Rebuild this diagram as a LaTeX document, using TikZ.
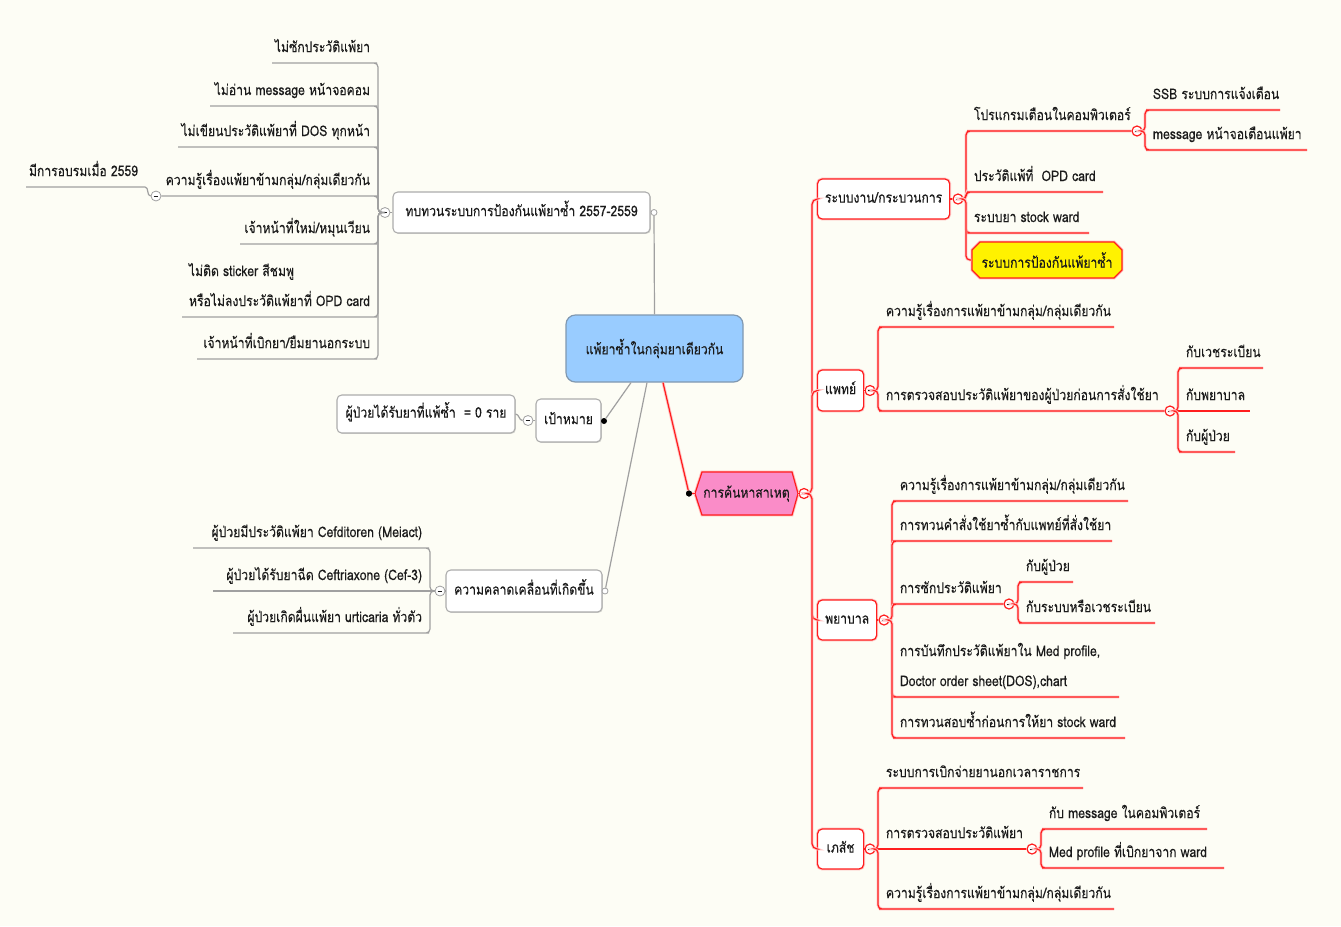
\documentclass[tikz,border=0pt]{standalone}
\usepackage{fontspec}
\setmainfont[Script=Thai, FakeStretch=0.83, FakeBold=0.25]{Loma}
\usetikzlibrary{calc,shapes.misc,shadows}
\definecolor{bgc}{HTML}{FDFDF5}
\definecolor{rootfill}{HTML}{99CCFF}
\definecolor{rootdraw}{HTML}{8098B0}
\definecolor{pinkfill}{HTML}{FA8CC8}
\definecolor{txt}{HTML}{1A1A1A}
\definecolor{gl}{HTML}{A0A0A0}
\definecolor{rl}{HTML}{FF1E1E}
\newcommand\mnsrule{\rule[-0.35pt]{3.6pt}{0.7pt}}
\tikzset{
 gline/.style={draw=gl, line width=0.9pt},
 rline/.style={draw=rl, line width=0.9pt, preaction={draw=red!22, line width=2.2pt}},
 colg/.style={circle, draw=gl, fill=white, line width=0.6pt, minimum size=7.5pt, inner sep=0pt},
 colr/.style={circle, draw=rl, fill=white, line width=0.9pt, minimum size=7.5pt, inner sep=0pt},
 endc/.style={circle, draw=gl, fill=white, line width=0.6pt, minimum size=4.5pt, inner sep=0pt},
 dotc/.style={circle, fill=black, minimum size=4.5pt, inner sep=0pt},
 gbox/.style={draw=gray!65, fill=white, rounded corners=3.5pt, line width=0.8pt, inner xsep=4pt, text height=9pt, text depth=3.5pt, drop shadow={shadow xshift=0.7pt, shadow yshift=-0.7pt, opacity=0.3}},
 rbox/.style={draw=rl, fill=white, rounded corners=3.5pt, line width=0.9pt, anchor=west, inner xsep=3pt, text height=9pt, text depth=3.5pt, preaction={draw=red!25,line width=2.2pt}},
 ulR/.style={anchor=south west, inner xsep=2pt, inner ysep=1pt, text depth=7pt, text height=9pt},
 ulL/.style={anchor=south east, inner xsep=2pt, inner ysep=1pt, text depth=7pt, text height=9pt},
 twoline/.style={font=\fontsize{11}{22.5}\selectfont, align=left},
}
\begin{document}
\begin{tikzpicture}[x=0.75pt,y=-0.75pt, font=\fontsize{11}{13}\selectfont, every node/.append style={text=txt}]
\useasboundingbox (0,0) rectangle (1341,926);
\fill[bgc] (0,0) rectangle (1341,926);

% ---------- root ----------
\node[draw=rootdraw, fill=rootfill, rounded corners=7pt, line width=0.9pt, minimum width=132.75pt, minimum height=50.25pt] (root) at (654.5,348.5) {แพ้ยาซ้ำในกลุ่มยาเดียวกัน};

% ---------- review branch ----------
\node[gbox, minimum width=192.75pt, minimum height=30.75pt] (rv) at (521.5,212.5) {ทบทวนระบบการป้องกันแพ้ยาซ้ำ 2557-2559};
\node[colg] (crv) at (385,212.5) {\mnsrule};
\node[ulL] (k1) at (373,63) {ไม่ซักประวัติแพ้ยา};
\node[ulL] (k2) at (373,106) {ไม่อ่าน message หน้าจอคอม};
\node[ulL] (k3) at (373,147) {ไม่เขียนประวัติแพ้ยาที่ DOS ทุกหน้า};
\node[ulL] (k4) at (373,196) {ความรู้เรื่องแพ้ยาข้ามกลุ่ม/กลุ่มเดียวกัน};
\node[ulL] (k5) at (373,244) {เจ้าหน้าที่ใหม่/หมุนเวียน};
\node[ulL, twoline] (k6) at (373,317) {ไม่ติด sticker สีชมพู\\หรือไม่ลงประวัติแพ้ยาที่ OPD card};
\node[ulL] (k7) at (373,359) {เจ้าหน้าที่เบิกยา/ยืมยานอกระบบ};
\node[colg] (ck4) at (156,196) {\mnsrule};
\node[ulR] (kk) at (26,187) {มีการอบรมเมื่อ 2559};

\draw[gline] (rv.west) -- (crv.east);
\draw[gline, rounded corners=3pt] (crv.west) -- (378,212.5) |- (k1.south east) -- ++(-101,0);
\draw[gline, rounded corners=3pt] (crv.west) -- (378,212.5) |- (k2.south east) -- ++(-163,0);
\draw[gline, rounded corners=3pt] (crv.west) -- (378,212.5) |- (k3.south east) -- ++(-195,0);
\draw[gline, rounded corners=3pt] (crv.west) -- (378,212.5) |- (k4.south east) -- (ck4.east);
\draw[gline, rounded corners=3pt] (crv.west) -- (378,212.5) |- (k5.south east) -- ++(-133,0);
\draw[gline, rounded corners=3pt] (crv.west) -- (378,212.5) |- (k6.south east) -- ++(-191,0);
\draw[gline, rounded corners=3pt] (crv.west) -- (378,212.5) |- (k7.south east) -- ++(-176,0);
\draw[gline] (ck4.west) to[out=180,in=0] ($(kk.south west)+(119,0)$) -- (kk.south west);

% ---------- goal branch ----------
\node[gbox, minimum width=48.75pt, minimum height=32.25pt] (goal) at (568.5,420.5) {เป้าหมาย};
\node[colg] (cgoal) at (528,420.5) {\mnsrule};
\node[gbox, minimum width=133.5pt, minimum height=28.5pt] (gc) at (426,414) {ผู้ป่วยได้รับยาที่แพ้ซ้ำ\ \ = 0 ราย};
\draw[gline] (goal.west) -- (cgoal.east);
\draw[gline] (cgoal.west) to[out=180,in=0] (gc.east);

% ---------- error branch ----------
\node[gbox, minimum width=117pt, minimum height=31.5pt] (err) at (524,591) {ความคลาดเคลื่อนที่เกิดขึ้น};
\node[colg] (cerr) at (440,591) {\mnsrule};
\node[ulL] (e1) at (425,548) {ผู้ป่วยมีประวัติแพ้ยา Cefditoren (Meiact)};
\node[ulL] (e2) at (425,591) {ผู้ป่วยได้รับยาฉีด Ceftriaxone (Cef-3)};
\node[ulL] (e3) at (425,633) {ผู้ป่วยเกิดผื่นแพ้ยา urticaria ทั่วตัว};
\draw[gline] (err.west) -- (cerr.east);
\draw[gline, rounded corners=3pt] (cerr.west) -- (430,591) |- (e1.south east) -- ++(-232,0);
\draw[gline] (cerr.west) -- (e2.south east) -- ++(-212,0);
\draw[gline, rounded corners=3pt] (cerr.west) -- (430,591) |- (e3.south east) -- ++(-192,0);

% ---------- cause branch ----------
\draw[draw=rl, fill=pinkfill, line width=0.9pt, preaction={draw=red!25, line width=2.2pt}]
  (695,493.5) -- (702,472) -- (792,472) -- (798,493.5) -- (792,515) -- (702,515) -- cycle;
\node (cause) at (746.5,493.5) {การค้นหาสาเหตุ};
\coordinate (causeL) at (695,493.5);
\coordinate (causeR) at (798,493.5);
\node[colr] (ccause) at (804,493.5) {\mnsrule};

\node[rbox, minimum width=99pt, minimum height=30pt] (b1) at (817,199) {ระบบงาน/กระบวนการ};
\node[rbox, minimum width=34.5pt, minimum height=30.75pt] (b2) at (817,390.5) {แพทย์};
\node[rbox, minimum width=44.25pt, minimum height=30pt] (b3) at (817,620) {พยาบาล};
\node[rbox, minimum width=34.5pt, minimum height=30pt] (b4) at (817,849) {เภสัช};
\node[colr] (cb1) at (958,199) {\mnsrule};
\node[colr] (cb2) at (870,390.5) {\mnsrule};
\node[colr] (cb3) at (884,620) {\mnsrule};
\node[colr] (cb4) at (870,849) {\mnsrule};

\draw[rline] (causeR) -- (ccause.west);
\draw[rline, rounded corners=4pt] (ccause.east) -- (812,493.5) |- (b1.west);
\draw[rline, rounded corners=4pt] (ccause.east) -- (812,493.5) |- (b2.west);
\draw[rline, rounded corners=4pt] (ccause.east) -- (812,493.5) |- (b3.west);
\draw[rline, rounded corners=4pt] (ccause.east) -- (812,493.5) |- (b4.west);
\draw[rline] (b1.east) -- (cb1.west);
\draw[rline] (b2.east) -- (cb2.west);
\draw[rline] (b3.east) -- (cb3.west);
\draw[rline] (b4.east) -- (cb4.west);

% system / process
\node[ulR] (d1) at (971,131) {โปรแกรมเตือนในคอมพิวเตอร์};
\node[ulR] (d2) at (971,192) {ประวัติแพ้ที่\ \ OPD card};
\node[ulR] (d3) at (971,233) {ระบบยา stock ward};
\node[chamfered rectangle, chamfered rectangle xsep=3pt, chamfered rectangle ysep=3pt, draw=rl, fill=yellow, line width=0.9pt, minimum width=112.5pt, minimum height=27pt, inner sep=2pt, preaction={draw=red!25,line width=2.2pt}] (yb) at (1047,260) {ระบบการป้องกันแพ้ยาซ้ำ};
\node[colr] (cprog) at (1137,131) {\mnsrule};
\node[ulR] (p1) at (1150,110) {SSB ระบบการแจ้งเตือน};
\node[ulR] (p2) at (1150,150) {message หน้าจอเตือนแพ้ยา};
\draw[rline, rounded corners=3pt] (cb1.east) -- (966,199) |- (d1.south west) -- (cprog.west);
\draw[rline, rounded corners=3pt] (cb1.east) -- (966,199) |- (d2.south west) -- ++(132,0);
\draw[rline, rounded corners=3pt] (cb1.east) -- (966,199) |- (d3.south west) -- ++(118,0);
\draw[rline, rounded corners=3pt] (cb1.east) -- (966,199) |- (yb.west);
\draw[rline, rounded corners=3pt] (cprog.east) -- (1145,131) |- (p1.south west) -- ++(130,0);
\draw[rline, rounded corners=3pt] (cprog.east) -- (1145,131) |- (p2.south west) -- ++(157,0);

% doctor
\node[ulR] (m1) at (883,327) {ความรู้เรื่องการแพ้ยาข้ามกลุ่ม/กลุ่มเดียวกัน};
\node[ulR] (m2) at (883,411) {การตรวจสอบประวัติแพ้ยาของผู้ป่วยก่อนการสั่งใช้ยา};
\node[colr] (cdoc2) at (1170,411) {\mnsrule};
\node[ulR] (q1) at (1183,368) {กับเวชระเบียน};
\node[ulR] (q2) at (1183,411) {กับพยาบาล};
\node[ulR] (q3) at (1183,452) {กับผู้ป่วย};
\draw[rline, rounded corners=3pt] (cb2.east) -- (878,390.5) |- (m1.south west) -- ++(231,0);
\draw[rline, rounded corners=3pt] (cb2.east) -- (878,390.5) |- (m2.south west) -- (cdoc2.west);
\draw[rline, rounded corners=3pt] (cdoc2.east) -- (1178,411) |- (q1.south west) -- ++(80,0);
\draw[rline] (cdoc2.east) -- (q2.south west) -- ++(67,0);
\draw[rline, rounded corners=3pt] (cdoc2.east) -- (1178,411) |- (q3.south west) -- ++(52,0);

% nurse
\node[ulR] (n1) at (897,501) {ความรู้เรื่องการแพ้ยาข้ามกลุ่ม/กลุ่มเดียวกัน};
\node[ulR] (n2) at (897,541) {การทวนคำสั่งใช้ยาซ้ำกับแพทย์ที่สั่งใช้ยา};
\node[ulR] (n3) at (897,604) {การซักประวัติแพ้ยา};
\node[ulR, twoline] (n4) at (897,697) {การบันทึกประวัติแพ้ยาใน Med profile,\\Doctor order sheet(DOS),chart};
\node[ulR] (n5) at (897,738) {การทวนสอบซ้ำก่อนการให้ยา stock ward};
\node[colr] (cnur3) at (1009,604) {\mnsrule};
\node[ulR] (r1) at (1023,582) {กับผู้ป่วย};
\node[ulR] (r2) at (1023,623) {กับระบบหรือเวชระเบียน};
\draw[rline, rounded corners=3pt] (cb3.east) -- (892,620) |- (n1.south west) -- ++(231,0);
\draw[rline, rounded corners=3pt] (cb3.east) -- (892,620) |- (n2.south west) -- ++(215,0);
\draw[rline, rounded corners=3pt] (cb3.east) -- (892,620) |- (n3.south west) -- (cnur3.west);
\draw[rline, rounded corners=3pt] (cb3.east) -- (892,620) |- (n4.south west) -- ++(222,0);
\draw[rline, rounded corners=3pt] (cb3.east) -- (892,620) |- (n5.south west) -- ++(228,0);
\draw[rline, rounded corners=3pt] (cnur3.east) -- (1018,604) |- (r1.south west) -- ++(50,0);
\draw[rline, rounded corners=3pt] (cnur3.east) -- (1018,604) |- (r2.south west) -- ++(132,0);

% pharmacist
\node[ulR] (s1) at (883,788) {ระบบการเบิกจ่ายยานอกเวลาราชการ};
\node[ulR] (s2) at (883,849) {การตรวจสอบประวัติแพ้ยา};
\node[ulR] (s3) at (883,909) {ความรู้เรื่องการแพ้ยาข้ามกลุ่ม/กลุ่มเดียวกัน};
\node[colr] (cph2) at (1032,849) {\mnsrule};
\node[ulR] (t1) at (1046,829) {กับ message ในคอมพิวเตอร์};
\node[ulR] (t2) at (1046,868) {Med profile ที่เบิกยาจาก ward};
\draw[rline, rounded corners=3pt] (cb4.east) -- (878,849) |- (s1.south west) -- ++(200,0);
\draw[rline] (cb4.east) -- (s2.south west) -- (cph2.west);
\draw[rline, rounded corners=3pt] (cb4.east) -- (878,849) |- (s3.south west) -- ++(231,0);
\draw[rline, rounded corners=3pt] (cph2.east) -- (1041,849) |- (t1.south west) -- ++(161,0);
\draw[rline, rounded corners=3pt] (cph2.east) -- (1041,849) |- (t2.south west) -- ++(178,0);

% ---------- root connectors ----------
\node[endc] (rvend) at (654,212.5) {};
\node[dotc] (goaldot) at (604,421) {};
\node[endc] (errend) at (605,591) {};
\node[dotc] (causedot) at (689,493.5) {};
\draw[gline] (root.north) -- (rvend.south);
\draw[gline] ($(root.south)+(-23.5,0)$) -- (goaldot);
\draw[gline] ($(root.south)+(-7.5,0)$) -- (errend);
\draw[rline] ($(root.south)+(8.5,0)$) -- (causedot);
\draw[rline] (causedot) -- (causeL);
\node[dotc] at (causedot) {};
\end{tikzpicture}
\end{document}
